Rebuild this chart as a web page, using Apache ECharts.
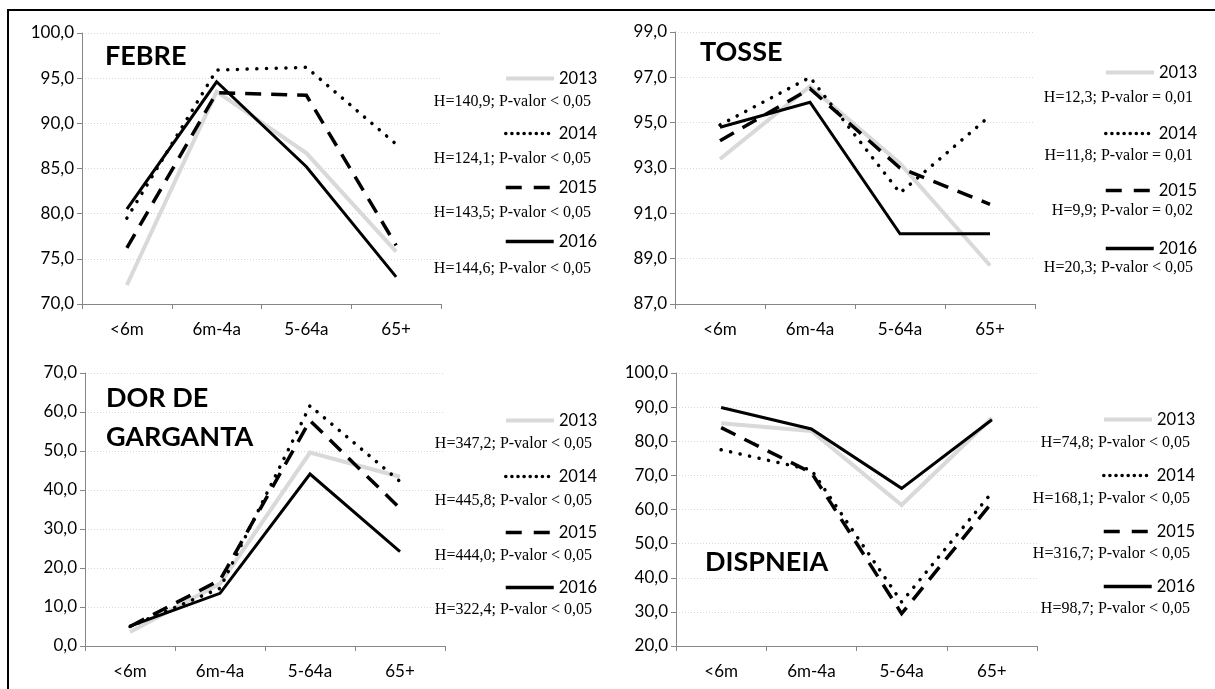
<!DOCTYPE html>
<html>
<head>
<meta charset="utf-8">
<script src="https://cdn.jsdelivr.net/npm/echarts@6/dist/echarts.min.js"></script>
<style>
html,body{margin:0;padding:0;background:#fff;}
#chart{width:1215px;height:689px;}
</style>
</head>
<body>
<div id="chart"></div>
<script>
// ---- data ----
const categories = ['<6m', '6m-4a', '5-64a', '65+'];
const years = ['2013', '2014', '2015', '2016'];

// rows: 2013, 2014, 2015, 2016
const febre = [
  [72.1, 93.5, 86.7, 75.8],
  [79.5, 95.9, 96.2, 87.7],
  [76.2, 93.4, 93.1, 76.5],
  [80.5, 94.6, 85.2, 73.0]
];
const tosse = [
  [93.4, 96.6, 93.2, 88.7],
  [94.9, 97.0, 91.9, 95.3],
  [94.2, 96.5, 93.0, 91.4],
  [94.8, 95.9, 90.1, 90.1]
];
const dor = [
  [3.6, 16.0, 49.6, 43.4],
  [5.0, 14.8, 61.6, 42.2],
  [5.0, 16.9, 57.8, 35.3],
  [5.1, 13.5, 44.1, 24.2]
];
const dispneia = [
  [85.3, 83.0, 61.3, 86.8],
  [77.5, 71.6, 32.9, 65.0],
  [84.0, 70.8, 29.5, 62.0],
  [89.9, 83.6, 66.2, 86.3]
];

const febreStats = ['H=140,9; P-valor < 0,05', 'H=124,1; P-valor < 0,05', 'H=143,5; P-valor < 0,05', 'H=144,6; P-valor < 0,05'];
const tosseStats = ['H=12,3; P-valor = 0,01', 'H=11,8; P-valor = 0,01', 'H=9,9; P-valor = 0,02', 'H=20,3; P-valor < 0,05'];
const dorStats = ['H=347,2; P-valor < 0,05', 'H=445,8; P-valor < 0,05', 'H=444,0; P-valor < 0,05', 'H=322,4; P-valor < 0,05'];
const dispneiaStats = ['H=74,8; P-valor < 0,05', 'H=168,1; P-valor < 0,05', 'H=316,7; P-valor < 0,05', 'H=98,7; P-valor < 0,05'];

const titles = [['FEBRE'], ['TOSSE'], ['DOR DE', 'GARGANTA'], ['DISPNEIA']];
const yMins = [70, 87, 0, 20];
const yMaxs = [100, 99, 70, 100];
const yIntervals = [5, 2, 10, 10];

// ---- layout (positions / styles) ----
const panelData = [febre, tosse, dor, dispneia];
const panelStats = [febreStats, tosseStats, dorStats, dispneiaStats];
const layout = [
  {grid: {left: 82, top: 33, width: 359, height: 271}, titleX: 105, titleY: [56], legX: 504, legY: [78, 133, 187, 241], statRight: 591, statY: [102, 159, 213, 269]},
  {grid: {left: 675, top: 32, width: 360, height: 272}, titleX: 700, titleY: [52], legX: 1104, legY: [72, 133, 190, 248], statRight: 1193, statY: [98, 156, 211, 268]},
  {grid: {left: 85, top: 373, width: 360, height: 273}, titleX: 106, titleY: [398, 437], legX: 504, legY: [420, 476, 532, 587], statRight: 592, statY: [444, 501, 556, 610]},
  {grid: {left: 676, top: 373, width: 361, height: 273}, titleX: 705, titleY: [562], legX: 1102, legY: [419, 475, 531, 586], statRight: 1190, statY: [443, 499, 554, 609]}
];
const yearStyles = [
  {color: '#d9d9d9', width: 4, type: 'solid', cap: 'butt', legType: 'solid'},
  {color: '#000000', width: 3.5, type: [0.1, 9.6], cap: 'round', legType: [0.1, 6]},
  {color: '#000000', width: 3.5, type: [16, 10], cap: 'butt', legType: [16, 12]},
  {color: '#000000', width: 3.5, type: 'solid', cap: 'butt', legType: 'solid'}
];

const LABEL_FONT = 'Lato, "Open Sans", sans-serif';
const SERIF_FONT = '"Liberation Serif", "DejaVu Serif", serif';
const fmt = v => v.toFixed(1).replace('.', ',');

const grids = [], xAxes = [], yAxes = [], series = [], legends = [], graphics = [];

layout.forEach((L, p) => {
  grids.push(Object.assign({containLabel: false}, L.grid));
  xAxes.push({
    type: 'category', gridIndex: p, data: categories, boundaryGap: true,
    axisLine: {show: true, lineStyle: {color: '#868686', width: 1}},
    axisTick: {show: true, length: 5, lineStyle: {color: '#868686'}},
    axisLabel: {color: '#000', fontFamily: LABEL_FONT, fontSize: 17, margin: 17},
    splitLine: {show: false}
  });
  yAxes.push({
    type: 'value', gridIndex: p, min: yMins[p], max: yMaxs[p], interval: yIntervals[p],
    axisLine: {show: true, lineStyle: {color: '#868686', width: 1}},
    axisTick: {show: true, length: 5, lineStyle: {color: '#868686'}},
    axisLabel: {color: '#000', fontFamily: LABEL_FONT, fontSize: 17, margin: 8, formatter: fmt},
    splitLine: {show: true, lineStyle: {color: '#d9d9d9', type: [1, 2], width: 1}}
  });
  years.forEach((yr, k) => {
    const s = yearStyles[k];
    series.push({
      type: 'line', name: yr, xAxisIndex: p, yAxisIndex: p,
      data: panelData[p][k], symbol: 'none', showSymbol: false, smooth: false,
      silent: true, animation: false, z: 2 + k,
      lineStyle: {color: s.color, width: k === 3 ? 3 : s.width, type: s.type, cap: s.cap, join: 'miter'},
      itemStyle: {color: s.color}
    });
    legends.push({
      data: [yr], orient: 'horizontal', left: L.legX, top: L.legY[k] - 8,
      padding: 0, itemWidth: 48, itemHeight: 16, itemGap: 0, selectedMode: false,
      itemStyle: {opacity: 0},
      lineStyle: {color: s.color, width: s.width, type: s.legType, cap: s.cap},
      textStyle: {color: '#000', fontFamily: LABEL_FONT, fontSize: 16.5, lineHeight: 16, padding: [0, 0, 0, 0]}
    });
    graphics.push({
      type: 'text', x: L.statRight, y: L.statY[k], silent: true,
      style: {text: panelStats[p][k], fill: '#000', font: '16px ' + SERIF_FONT, textAlign: 'right', textVerticalAlign: 'middle'}
    });
  });
  titles[p].forEach((t, i) => {
    graphics.push({
      type: 'text', x: L.titleX, y: L.titleY[i], silent: true,
      style: {text: t, fill: '#000', font: 'bold 27px ' + LABEL_FONT, textAlign: 'left', textVerticalAlign: 'middle'}
    });
  });
});

// outer frame (top and left edges)
graphics.push({type: 'line', silent: true, shape: {x1: 7, y1: 10, x2: 1215, y2: 10}, style: {stroke: '#000', lineWidth: 2}});
graphics.push({type: 'line', silent: true, shape: {x1: 8, y1: 9, x2: 8, y2: 689}, style: {stroke: '#000', lineWidth: 2}});

const chart = echarts.init(document.getElementById('chart'), null, {renderer: 'canvas'});
chart.setOption({
  backgroundColor: '#ffffff',
  animation: false,
  grid: grids,
  xAxis: xAxes,
  yAxis: yAxes,
  legend: legends,
  series: series,
  graphic: graphics
});
</script>
</body>
</html>
